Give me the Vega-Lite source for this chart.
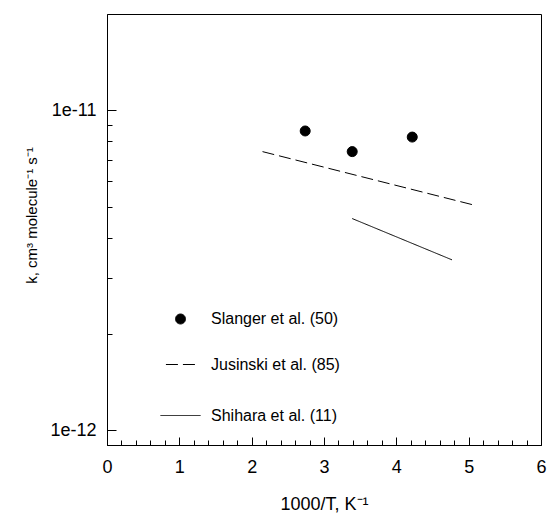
{
  "$schema": "https://vega.github.io/schema/vega-lite/v6.json",
  "width": 434,
  "height": 431,
  "autosize": {"type": "none"},
  "padding": {"left": 107, "top": 14, "right": 7, "bottom": 69},
  "background": "white",
  "config": {
    "font": "Liberation Sans",
    "view": {"stroke": "black", "strokeWidth": 1},
    "axis": {
      "domainColor": "black",
      "tickColor": "black",
      "labelColor": "black",
      "titleColor": "black",
      "grid": false,
      "labelFont": "Liberation Sans",
      "titleFont": "Liberation Sans",
      "titleFontWeight": "normal"
    },
    "legend": {
      "symbolStrokeWidth": 1,
      "labelFont": "Liberation Sans",
      "labelFontSize": 16,
      "labelColor": "black",
      "labelLimit": 300
    }
  },
  "datasets": {
    "pts": [
      {"x": 2.74, "k": 8.62e-12, "series": "Slanger et al. (50)"},
      {"x": 3.39, "k": 7.43e-12, "series": "Slanger et al. (50)"},
      {"x": 4.22, "k": 8.25e-12, "series": "Slanger et al. (50)"}
    ],
    "lines": [
      {"x": 2.15, "k": 7.43e-12, "series": "Jusinski et al. (85)"},
      {"x": 5.10, "k": 5.04e-12, "series": "Jusinski et al. (85)"},
      {"x": 3.39, "k": 4.59e-12, "series": "Shihara et al. (11)"},
      {"x": 4.77, "k": 3.41e-12, "series": "Shihara et al. (11)"}
    ]
  },
  "encoding": {
    "x": {
      "field": "x",
      "type": "quantitative",
      "scale": {"domain": [0, 6], "nice": false, "zero": false},
      "axis": {
        "title": "1000/T, K⁻¹",
        "titleFontSize": 18,
        "titlePadding": 19,
        "labelFontSize": 18,
        "values": [0, 0.2, 0.4, 0.6, 0.8, 1, 1.2, 1.4, 1.6, 1.8, 2, 2.2, 2.4, 2.6, 2.8, 3, 3.2, 3.4, 3.6, 3.8, 4, 4.2, 4.4, 4.6, 4.8, 5, 5.2, 5.4, 5.6, 5.8, 6],
        "labelExpr": "datum.value % 1 == 0 ? format(datum.value, 'd') : ''",
        "tickSize": {"condition": {"test": "datum.value % 1 == 0", "value": -8}, "value": -5},
        "labelPadding": 21,
        "labelFlush": false
      }
    },
    "y": {
      "field": "k",
      "type": "quantitative",
      "scale": {"type": "log", "domain": [9e-13, 2e-11], "nice": false},
      "axis": {
        "title": "k, cm³ molecule⁻¹ s⁻¹",
        "titleFontSize": 15,
        "titlePadding": 10,
        "titleY": 201,
        "labelFontSize": 18,
        "values": [1e-12, 2e-12, 3e-12, 4e-12, 5e-12, 6e-12, 7e-12, 8e-12, 9e-12, 1e-11],
        "labelExpr": "datum.value == 1e-11 ? '1e-11' : (datum.value == 1e-12 ? '1e-12' : '')",
        "tickSize": {"condition": {"test": "datum.value == 1e-11 || datum.value == 1e-12", "value": -9}, "value": -5},
        "labelPadding": 20
      }
    }
  },
  "layer": [
    {
      "data": {"name": "pts"},
      "mark": {"type": "point", "filled": true, "fill": "black", "stroke": "black", "strokeWidth": 1, "opacity": 1},
      "encoding": {
        "shape": {
          "field": "series",
          "type": "nominal",
          "scale": {
            "domain": ["Slanger et al. (50)", "Jusinski et al. (85)", "Shihara et al. (11)"],
            "range": ["circle", "stroke", "stroke"]
          },
          "legend": {
            "title": null,
            "orient": "none",
            "legendX": 53,
            "legendY": 297,
            "padding": 0,
            "rowPadding": 22,
            "labelOffset": 10
          }
        },
        "size": {
          "field": "series",
          "type": "nominal",
          "scale": {
            "domain": ["Slanger et al. (50)", "Jusinski et al. (85)", "Shihara et al. (11)"],
            "range": [100, 1600, 1600]
          },
          "legend": {
            "title": null,
            "orient": "none",
            "legendX": 53,
            "legendY": 297,
            "padding": 0,
            "rowPadding": 22,
            "labelOffset": 10
          }
        }
      }
    },
    {
      "data": {"name": "lines"},
      "mark": {"type": "line", "color": "black", "strokeWidth": 1},
      "encoding": {
        "detail": {"field": "series"},
        "strokeDash": {
          "field": "series",
          "type": "nominal",
          "scale": {
            "domain": ["Slanger et al. (50)", "Jusinski et al. (85)", "Shihara et al. (11)"],
            "range": [[1, 0], [12, 5], [1, 0]]
          },
          "legend": {
            "title": null,
            "orient": "none",
            "legendX": 53,
            "legendY": 297,
            "padding": 0,
            "rowPadding": 22,
            "labelOffset": 10
          }
        }
      }
    }
  ]
}
